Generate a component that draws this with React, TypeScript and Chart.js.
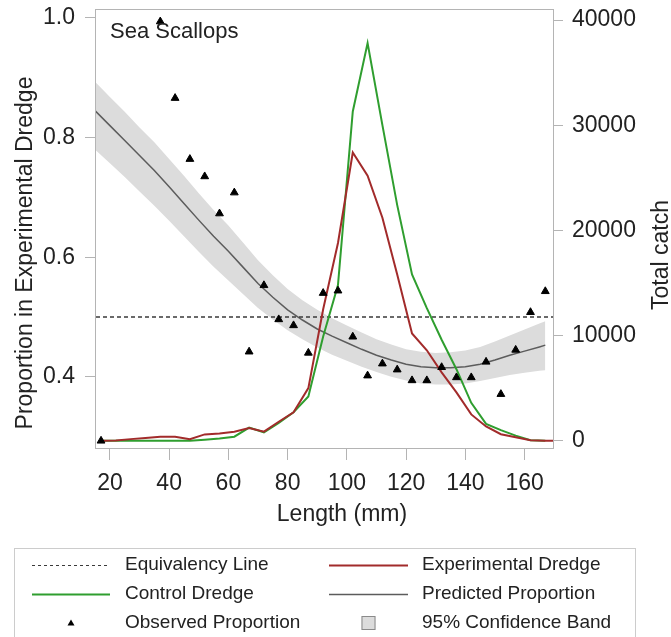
import React, { useEffect, useRef } from "react";
import { Chart, registerables } from "chart.js";

Chart.register(...registerables);

const FONT = "'Liberation Sans', Arial, Helvetica, sans-serif";

// ---- axes ----
const X_MIN = 15.3;
const X_MAX = 169.6;
const Y_MIN = 0.281;
const Y_MAX = 1.015;
const Y2_MIN = -694;
const Y2_MAX = 41046;
const xTicks = [20, 40, 60, 80, 100, 120, 140, 160];
const yTicks = [0.4, 0.6, 0.8, 1.0];
const y2Ticks = [0, 10000, 20000, 30000, 40000];

// ---- observed proportion ----
const observedLengths = [17, 37, 42, 47, 52, 57, 62, 67, 72, 77, 82, 87, 92, 97, 102, 107, 112, 117, 122, 127, 132, 137, 142, 147, 152, 157, 162, 167];
const observedProportion = [0.293, 0.994, 0.866, 0.764, 0.735, 0.673, 0.708, 0.442, 0.553, 0.496, 0.486, 0.44, 0.54, 0.544, 0.467, 0.402, 0.422, 0.412, 0.394, 0.394, 0.416, 0.399, 0.399, 0.425, 0.371, 0.445, 0.508, 0.543];

// ---- catch ----
const experimentalLengths = [17, 22, 27, 32, 37, 42, 47, 52, 57, 62, 67, 72, 77, 82, 87, 92, 97, 102, 107, 112, 117, 122, 127, 132, 137, 142, 147, 152, 157, 162, 167, 172];
const experimentalCatch = [0, 30, 150, 250, 380, 380, 140, 600, 680, 850, 1200, 860, 1800, 2700, 5000, 12500, 18800, 27400, 25200, 21200, 15800, 10200, 8600, 6500, 4600, 2500, 1350, 620, 330, 50, 0, 0];
const controlLengths = [17, 22, 27, 32, 37, 42, 47, 52, 57, 62, 67, 72, 77, 82, 87, 92, 97, 102, 107, 112, 117, 122, 127, 132, 137, 142, 147, 152, 157, 162, 167];
const controlCatch = [0, 0, 0, 0, 0, 0, 0, 100, 220, 380, 1250, 800, 1700, 2700, 4200, 9900, 14800, 31300, 37800, 30000, 22400, 15800, 12600, 9600, 6800, 3600, 1600, 1000, 480, 50, 0];

// ---- predicted proportion & 95% band ----
const predictedLengths = [15, 20, 25, 30, 35, 40, 45, 50, 55, 60, 65, 70, 75, 80, 85, 90, 95, 100, 105, 110, 115, 120, 125, 130, 135, 140, 145, 150, 155, 160, 165, 167];
const predictedProportion = [0.845, 0.82, 0.795, 0.77, 0.745, 0.718, 0.69, 0.662, 0.635, 0.61, 0.583, 0.556, 0.533, 0.512, 0.495, 0.48, 0.468, 0.457, 0.446, 0.436, 0.428, 0.421, 0.417, 0.415, 0.415, 0.417, 0.421, 0.428, 0.436, 0.443, 0.45, 0.453];
const bandUpper = [0.893, 0.868, 0.843, 0.817, 0.792, 0.764, 0.736, 0.707, 0.679, 0.653, 0.624, 0.595, 0.57, 0.547, 0.528, 0.512, 0.498, 0.486, 0.474, 0.463, 0.454, 0.446, 0.442, 0.44, 0.441, 0.444, 0.45, 0.459, 0.469, 0.479, 0.489, 0.493];
const bandLower = [0.78, 0.757, 0.734, 0.71, 0.686, 0.661, 0.635, 0.609, 0.584, 0.561, 0.538, 0.515, 0.496, 0.478, 0.463, 0.449, 0.437, 0.427, 0.417, 0.408, 0.4, 0.394, 0.389, 0.387, 0.387, 0.389, 0.393, 0.398, 0.403, 0.407, 0.41, 0.411];

const equivalencyValue = 0.5;

// ---- styles ----
const RED = "#a22b2b";
const GREEN = "#2f9e2f";
const PRED = "#5c5c5c";
const BAND = "#dcdcdc";
const DASH = "#3a3a3a";
const AXIS = "#b4b4b4";
const TEXT = "#222222";

const zip = (xs: number[], ys: number[]) => xs.map((x, i) => ({ x, y: ys[i] }));

const decorPlugin = {
  id: "decor",
  afterDraw(chart: any) {
    const { ctx, chartArea } = chart;
    ctx.save();
    // frame
    ctx.strokeStyle = AXIS;
    ctx.lineWidth = 1;
    ctx.strokeRect(
      Math.round(chartArea.left) - 0.5,
      Math.round(chartArea.top) + 0.5,
      Math.round(chartArea.right - chartArea.left) + 1,
      Math.round(chartArea.bottom - chartArea.top)
    );

    ctx.fillStyle = TEXT;
    // inset title
    ctx.font = `22px ${FONT}`;
    ctx.textAlign = "left";
    ctx.textBaseline = "alphabetic";
    ctx.fillText("Sea Scallops", 110, 38);

    // axis titles
    ctx.font = `23px ${FONT}`;
    ctx.textAlign = "center";
    ctx.fillText("Length (mm)", 342, 521);

    ctx.save();
    ctx.translate(32, 253);
    ctx.rotate(-Math.PI / 2);
    ctx.fillText("Proportion in Experimental Dredge", 0, 0);
    ctx.restore();

    ctx.save();
    ctx.translate(668, 255);
    ctx.rotate(-Math.PI / 2);
    ctx.fillText("Total catch", 0, 0);
    ctx.restore();

    // legend
    ctx.strokeStyle = "#cccccc";
    ctx.lineWidth = 1;
    ctx.strokeRect(14.5, 548.5, 621, 100);

    const rows = [565, 594, 623];
    const c1 = { x0: 32, x1: 110, tx: 125 };
    const c2 = { x0: 329, x1: 408, tx: 422 };
    const line = (c: any, y: number, color: string, w: number, dash: number[]) => {
      ctx.save();
      ctx.strokeStyle = color;
      ctx.lineWidth = w;
      ctx.setLineDash(dash);
      ctx.beginPath();
      ctx.moveTo(c.x0, y + 0.5);
      ctx.lineTo(c.x1, y + 0.5);
      ctx.stroke();
      ctx.restore();
    };
    line(c1, rows[0], DASH, 1, [3, 3]);
    line(c2, rows[0], RED, 2, []);
    line(c1, rows[1], GREEN, 2, []);
    line(c2, rows[1], PRED, 1.5, []);
    // triangle
    const tx = (c1.x0 + c1.x1) / 2;
    ctx.fillStyle = "#000";
    ctx.beginPath();
    ctx.moveTo(tx, rows[2] - 3.5);
    ctx.lineTo(tx + 3.5, rows[2] + 2.5);
    ctx.lineTo(tx - 3.5, rows[2] + 2.5);
    ctx.closePath();
    ctx.fill();
    // band square
    const sx = (c2.x0 + c2.x1) / 2;
    ctx.fillStyle = BAND;
    ctx.fillRect(sx - 7, rows[2] - 7, 14, 14);
    ctx.strokeStyle = "#8a8a8a";
    ctx.strokeRect(sx - 6.5, rows[2] - 6.5, 13, 13);

    ctx.fillStyle = TEXT;
    ctx.font = `19px ${FONT}`;
    ctx.textAlign = "left";
    ctx.textBaseline = "middle";
    ctx.fillText("Equivalency Line", c1.tx, rows[0]);
    ctx.fillText("Experimental Dredge", c2.tx, rows[0]);
    ctx.fillText("Control Dredge", c1.tx, rows[1]);
    ctx.fillText("Predicted Proportion", c2.tx, rows[1]);
    ctx.fillText("Observed Proportion", c1.tx, rows[2]);
    ctx.fillText("95% Confidence Band", c2.tx, rows[2]);
    ctx.restore();
  },
};

export default function App() {
  const ref = useRef<HTMLCanvasElement>(null);

  useEffect(() => {
    const canvas = ref.current;
    if (!canvas) return;
    Chart.defaults.font.family = FONT;

    const tickGrid = (len: number) => ({
      display: true,
      drawOnChartArea: false,
      drawTicks: true,
      tickLength: len,
      color: AXIS,
      lineWidth: 1,
    });

    const chart = new Chart(canvas, {
      type: "line",
      data: {
        datasets: [
          {
            label: "Observed Proportion",
            data: zip(observedLengths, observedProportion),
            yAxisID: "y",
            showLine: false,
            pointStyle: "triangle",
            pointRadius: 4.5,
            backgroundColor: "#000",
            borderColor: "#000",
            borderWidth: 1,
          },
          {
            label: "Experimental Dredge",
            data: zip(experimentalLengths, experimentalCatch),
            yAxisID: "y2",
            borderColor: RED,
            borderWidth: 2,
            pointRadius: 0,
            fill: false,
            tension: 0,
          },
          {
            label: "Control Dredge",
            data: zip(controlLengths, controlCatch),
            yAxisID: "y2",
            borderColor: GREEN,
            borderWidth: 2,
            pointRadius: 0,
            fill: false,
            tension: 0,
          },
          {
            label: "Equivalency Line",
            data: [
              { x: X_MIN, y: equivalencyValue },
              { x: X_MAX, y: equivalencyValue },
            ],
            yAxisID: "y",
            borderColor: DASH,
            borderWidth: 1.3,
            borderDash: [4, 3],
            pointRadius: 0,
            fill: false,
          },
          {
            label: "Predicted Proportion",
            data: zip(predictedLengths, predictedProportion),
            yAxisID: "y",
            borderColor: PRED,
            borderWidth: 1.5,
            pointRadius: 0,
            fill: false,
            tension: 0,
          },
          {
            label: "95% Confidence Band",
            data: zip(predictedLengths, bandUpper),
            yAxisID: "y",
            borderColor: "rgba(0,0,0,0)",
            borderWidth: 0,
            backgroundColor: BAND,
            pointRadius: 0,
            fill: "+1",
            tension: 0,
          },
          {
            label: "band lower",
            data: zip(predictedLengths, bandLower),
            yAxisID: "y",
            borderColor: "rgba(0,0,0,0)",
            borderWidth: 0,
            pointRadius: 0,
            fill: false,
            tension: 0,
          },
        ],
      },
      options: {
        responsive: false,
        animation: false,
        events: [],
        layout: { padding: { top: 9, left: 0, right: 0, bottom: 0 } },
        plugins: {
          legend: { display: false },
          title: { display: false },
          tooltip: { enabled: false },
        },
        scales: {
          x: {
            type: "linear",
            min: X_MIN,
            max: X_MAX,
            afterBuildTicks: (s: any) => {
              s.ticks = xTicks.map((v) => ({ value: v }));
            },
            afterFit: (s: any) => {
              s.height = 189;
              s.paddingLeft = 0;
              s.paddingRight = 0;
            },
            ticks: {
              font: { size: 23, family: FONT },
              color: TEXT,
              padding: 10,
              maxRotation: 0,
              autoSkip: false,
              callback: (v: any) => String(v),
            },
            grid: tickGrid(12),
            border: { display: false },
          },
          y: {
            type: "linear",
            position: "left",
            min: Y_MIN,
            max: Y_MAX,
            afterBuildTicks: (s: any) => {
              s.ticks = yTicks.map((v) => ({ value: v }));
            },
            afterFit: (s: any) => {
              s.width = 96;
              s.paddingTop = 0;
              s.paddingBottom = 0;
            },
            ticks: {
              font: { size: 23, family: FONT },
              color: TEXT,
              padding: 10,
              callback: (v: any) => Number(v).toFixed(1),
            },
            grid: tickGrid(11),
            border: { display: false },
          },
          y2: {
            type: "linear",
            position: "right",
            min: Y2_MIN,
            max: Y2_MAX,
            afterBuildTicks: (s: any) => {
              s.ticks = y2Ticks.map((v) => ({ value: v }));
            },
            afterFit: (s: any) => {
              s.width = 118;
              s.paddingTop = 0;
              s.paddingBottom = 0;
            },
            ticks: {
              font: { size: 23, family: FONT },
              color: TEXT,
              padding: 9,
              callback: (v: any) => String(v),
            },
            grid: tickGrid(10),
            border: { display: false },
          },
        },
      },
      plugins: [decorPlugin],
    });

    return () => chart.destroy();
  }, []);

  return (
    <div style={{ position: "fixed", left: 0, top: 0, width: 671, height: 637, background: "#ffffff" }}>
      <canvas ref={ref} width={671} height={637} style={{ display: "block", width: 671, height: 637 }} />
    </div>
  );
}
